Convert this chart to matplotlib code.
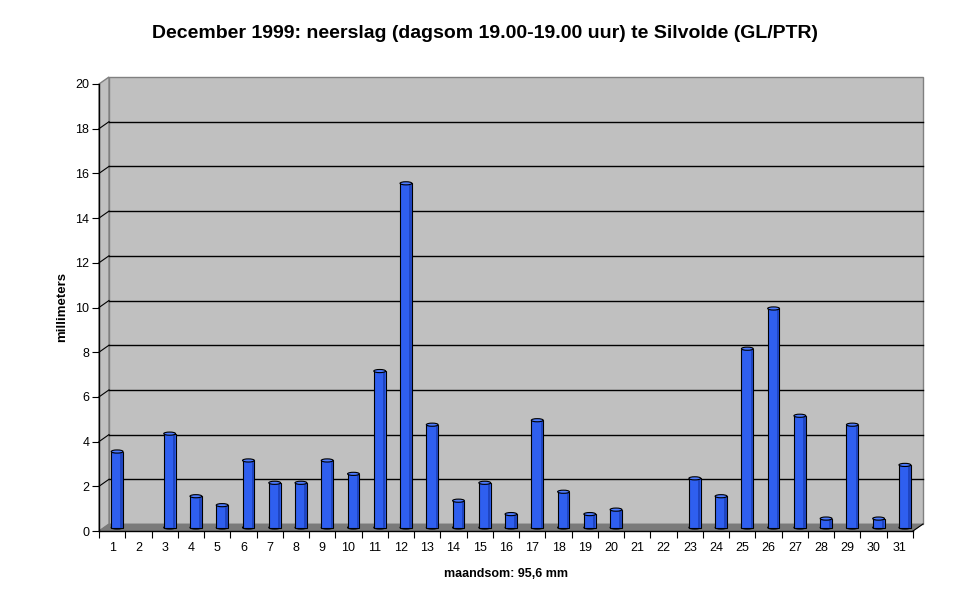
import matplotlib
matplotlib.use("Agg")
import matplotlib.pyplot as plt
from matplotlib.patches import Polygon, Rectangle, Ellipse
from matplotlib.transforms import ScaledTranslation, IdentityTransform
import numpy as np

plt.rcParams['font.family'] = ['Liberation Sans', 'DejaVu Sans']

days = list(range(1, 32))
neerslag = [3.4, 0.0, 4.2, 1.4, 1.0, 3.0, 2.0, 2.0, 3.0, 2.4,
            7.0, 15.4, 4.6, 1.2, 2.0, 0.6, 4.8, 1.6, 0.6, 0.8,
            0.0, 0.0, 2.2, 1.4, 8.0, 9.8, 5.0, 0.4, 4.6, 0.4, 2.8]
yticks = list(range(0, 21, 2))

title = "December 1999: neerslag (dagsom 19.00-19.00 uur) te Silvolde (GL/PTR)"
xlabel = "maandsom: 95,6 mm"
ylabel = "millimeters"

W, H = 970, 604
fig = plt.figure(figsize=(W / 100, H / 100), dpi=100)
ax = fig.add_axes([99 / W, 73 / H, (913 - 99) / W, (531 - 84) / H])
ax.set_xlim(0, 31)
ax.set_ylim(0, 20)
ax.patch.set_visible(False)

# depth of the 3d box in pixels
dx, dy = 10, 7
back = ax.transData + ScaledTranslation(dx / 100, dy / 100, fig.dpi_scale_trans)
mid = ax.transData + ScaledTranslation(dx / 200, dy / 200, fig.dpi_scale_trans)


def px(x, y):
    return ax.transData.transform((x, y))


fig.canvas.draw()
ident = IdentityTransform()
off = np.array([dx, dy])

# back wall
wall = Rectangle((0, 0), 31, 20, transform=back, facecolor='#c0c0c0',
                 edgecolor='#808080', lw=1, zorder=0, clip_on=False)
ax.add_patch(wall)
# left side wall
side = Polygon([px(0, 0), px(0, 20), px(0, 20) + off, px(0, 0) + off],
               closed=True, transform=ident, facecolor='#c0c0c0',
               edgecolor='#808080', lw=1, zorder=0.5, clip_on=False)
ax.add_artist(side)

# gridlines on back wall and side wall
for v in yticks[1:-1]:
    ax.plot([0, 31], [v, v], color='black', lw=1, transform=back,
            zorder=1, clip_on=False)
    p0 = px(0, v)
    ax.plot([p0[0], p0[0] + dx], [p0[1], p0[1] + dy], color='black', lw=0.8,
            transform=ident, zorder=1, clip_on=False)

# floor
floor = Polygon([px(0, 0), px(31, 0), px(31, 0) + off, px(0, 0) + off],
                closed=True, transform=ident, facecolor='#7a7a7a',
                edgecolor='#7a7a7a', lw=0.5, zorder=2, clip_on=False)
ax.add_artist(floor)
p1 = px(31, 0)
ax.plot([p1[0], p1[0] + dx], [p1[1], p1[1] + dy], color='black', lw=0.8,
        transform=ident, zorder=2.5, clip_on=False)

# cylinders
bw = 0.45
ell_h = 0.14
for i, v in enumerate(neerslag):
    if v <= 0:
        continue
    xc = i + 0.5
    ax.add_patch(Rectangle((xc - bw / 2, 0), bw, v, transform=mid,
                           facecolor='#2f5fef', edgecolor='black', lw=0.8,
                           zorder=3, clip_on=False))
    # darker right side for the round look
    ax.add_patch(Rectangle((xc + bw * 0.28, 0), bw * 0.2, v, transform=mid,
                           facecolor='#1f45c0', edgecolor='none',
                           zorder=3.1, clip_on=False))
    ax.add_patch(Ellipse((xc, 0), bw, ell_h, transform=mid,
                         facecolor='#2f5fef', edgecolor='black', lw=0.8,
                         zorder=2.9, clip_on=False))
    ax.add_patch(Ellipse((xc, v), bw, ell_h, transform=mid,
                         facecolor='#4d7bff', edgecolor='black', lw=0.8,
                         zorder=4, clip_on=False))

for s in ['top', 'right']:
    ax.spines[s].set_visible(False)
for s in ['left', 'bottom']:
    ax.spines[s].set_color('black')
    ax.spines[s].set_linewidth(1)
    ax.spines[s].set_zorder(5)

ax.set_yticks(yticks)
ax.tick_params(axis='y', direction='out', length=5, labelsize=9, pad=2)
ax.set_xticks(range(0, 32))
ax.set_xticklabels([])
ax.set_xticks([d - 0.5 for d in days], minor=True)
ax.set_xticklabels([str(d) for d in days], minor=True)
ax.tick_params(axis='x', which='major', direction='out', length=5)
ax.tick_params(axis='x', which='minor', length=0, labelsize=9, pad=8)

ax.set_xlabel(xlabel, fontsize=9, fontweight='bold', labelpad=10)
ax.set_ylabel(ylabel, fontsize=9.5, fontweight='bold', labelpad=5)
fig.text(485 / W, 1 - 34 / H, title, fontsize=14, fontweight='bold',
         ha='center', va='center')

fig.savefig("out.png", dpi=100)
